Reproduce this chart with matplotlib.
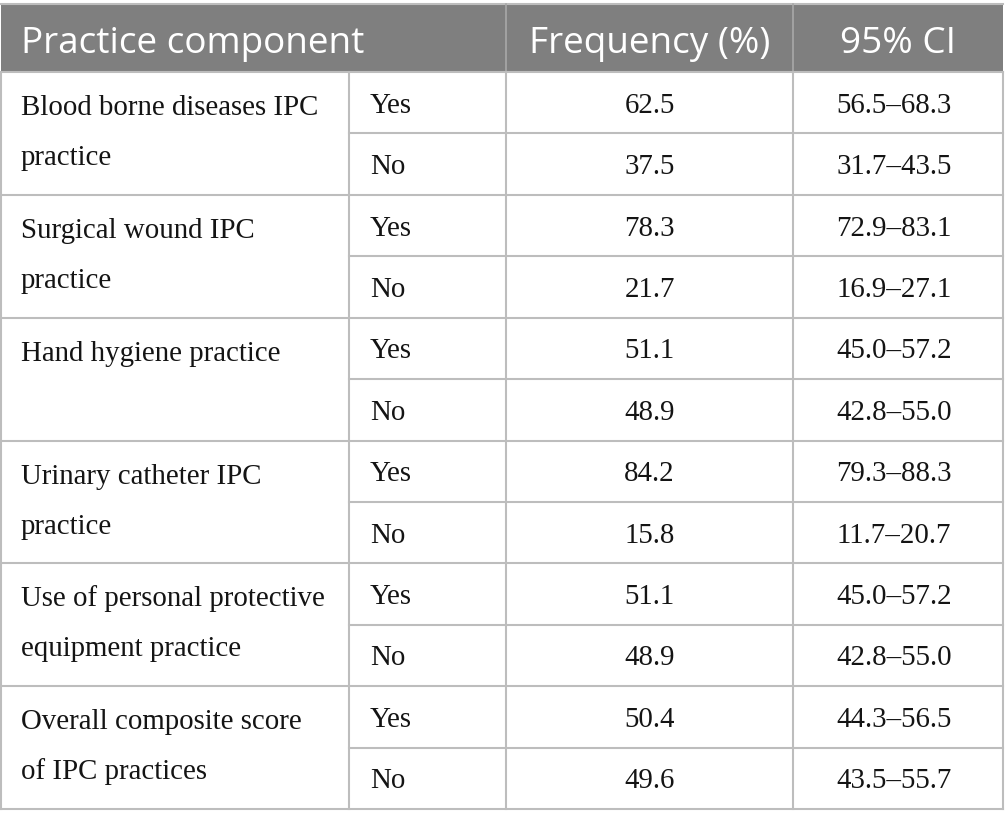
import matplotlib
matplotlib.use("Agg")
import matplotlib.pyplot as plt
from matplotlib.patches import Rectangle

# table content
components = [
    ["Blood borne diseases IPC", "practice"],
    ["Surgical wound IPC", "practice"],
    ["Hand hygiene practice"],
    ["Urinary catheter IPC", "practice"],
    ["Use of personal protective", "equipment practice"],
    ["Overall composite score", "of IPC practices"],
]
answers = ["Yes", "No"]
freq_yes = [62.5, 78.3, 51.1, 84.2, 51.1, 50.4]
freq_no = [37.5, 21.7, 48.9, 15.8, 48.9, 49.6]
ci_yes = ["56.5–68.3", "72.9–83.1", "45.0–57.2", "79.3–88.3", "45.0–57.2", "44.3–56.5"]
ci_no = ["31.7–43.5", "16.9–27.1", "42.8–55.0", "11.7–20.7", "42.8–55.0", "43.5–55.7"]
headers = ["Practice component", "Frequency (%)", "95% CI"]

W, H = 1005, 825
col_x = [1, 349, 506, 793, 1003]
top, head_bot, bottom = 4, 72, 809
row_h = (bottom - head_bot) / 12

line_col = "#bdbdbd"
head_col = "#7f7f7f"
txt_col = "#141414"
serif = "Liberation Serif"
sans = "Open Sans"
body_fs = 20.8
head_fs = 26.6

fig = plt.figure(figsize=(W / 100, H / 100), dpi=100)
ax = fig.add_axes([0, 0, 1, 1])
ax.set_xlim(0, W)
ax.set_ylim(H, 0)
ax.axis("off")

# header band
ax.add_patch(Rectangle((col_x[0], top), col_x[-1] - col_x[0], head_bot - top,
                       facecolor=head_col, edgecolor="none"))
ax.plot([col_x[0], col_x[-1]], [top, top], color=line_col, lw=1.5)
for x in col_x[2:4]:
    ax.plot([x, x], [top, head_bot], color="#a8a8a8", lw=1.2)

ax.text(21, 53, headers[0], fontsize=head_fs, family=sans, color="white",
        ha="left", va="baseline")
ax.text((col_x[2] + col_x[3]) / 2, 53, headers[1], fontsize=head_fs, family=sans,
        color="white", ha="center", va="baseline")
ax.text((col_x[3] + col_x[4]) / 2, 53, headers[2], fontsize=head_fs, family=sans,
        color="white", ha="center", va="baseline")

# body grid
for i in range(13):
    y = head_bot + i * row_h
    x0 = col_x[0] if i % 2 == 0 else col_x[1]
    ax.plot([x0, col_x[-1]], [y, y], color=line_col, lw=1.5)
for x in col_x:
    ax.plot([x, x], [head_bot, bottom], color=line_col, lw=1.5)

for k, lines in enumerate(components):
    y0 = head_bot + 2 * k * row_h
    for j, ln in enumerate(lines):
        ax.text(21, y0 + 43 + j * 50, ln, fontsize=body_fs, family=serif,
                color=txt_col, ha="left", va="baseline")
    vals = [(freq_yes[k], ci_yes[k]), (freq_no[k], ci_no[k])]
    for s in range(2):
        yb = y0 + s * row_h + row_h / 2 + 10
        ax.text(370, yb, answers[s], fontsize=body_fs, family=serif,
                color=txt_col, ha="left", va="baseline")
        ax.text((col_x[2] + col_x[3]) / 2, yb, f"{vals[s][0]:.1f}", fontsize=body_fs,
                family=serif, color=txt_col, ha="center", va="baseline")
        ax.text((col_x[3] + col_x[4]) / 2 - 4, yb, vals[s][1], fontsize=body_fs,
                family=serif, color=txt_col, ha="center", va="baseline")

fig.savefig("out.png", dpi=100, facecolor="white")
